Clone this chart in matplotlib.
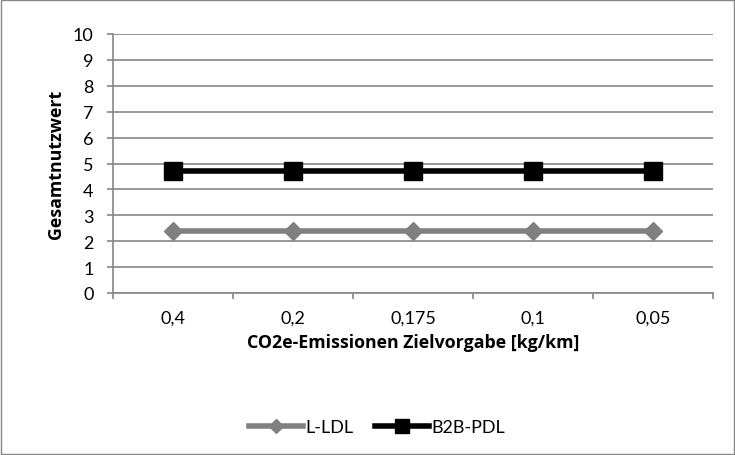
import matplotlib
matplotlib.use("Agg")
import matplotlib.pyplot as plt
import numpy as np

categories = ["0,4", "0,2", "0,175", "0,1", "0,05"]
l_ldl = [2.4, 2.4, 2.4, 2.4, 2.4]
b2b_pdl = [4.7, 4.7, 4.7, 4.7, 4.7]
yticks = list(range(0, 11))

plt.rcParams['font.family'] = ['Lato', 'DejaVu Sans']

fig = plt.figure(figsize=(7.35, 4.56), dpi=100)
ax = fig.add_axes([113/735, 1-294/456, 600/735, 259/456])

x = np.arange(len(categories))
ax.plot(x, l_ldl, color='#808080', lw=4, marker='D', markersize=9.5, label='L-LDL', zorder=3)
ax.plot(x, b2b_pdl, color='black', lw=4, marker='s', markersize=13.5, label='B2B-PDL', zorder=3)

ax.set_xlim(-0.5, len(categories)-0.5)
ax.set_ylim(0, 10)
ax.set_yticks(yticks)
ax.set_yticklabels([str(v) for v in yticks], fontsize=13)
ax.yaxis.grid(True, color='#868686', lw=1.2)
ax.set_axisbelow(True)

ax.set_xticks(np.arange(-0.5, len(categories)), labels=[''] * (len(categories)+1))
ax.set_xticks(x, minor=True)
ax.set_xticklabels(categories, minor=True, fontsize=13)
ax.tick_params(axis='x', which='major', length=4, color='#868686', width=1.2)
ax.tick_params(axis='x', which='minor', length=0, pad=12)
ax.tick_params(axis='y', length=4, color='#868686', width=1.2, pad=10)

for s in ['top', 'right']:
    ax.spines[s].set_visible(False)
for s in ['left', 'bottom']:
    ax.spines[s].set_color('#868686')
    ax.spines[s].set_linewidth(1.2)

ax.set_ylabel('Gesamtnutzwert', fontsize=12.8, fontweight='bold', family=['Open Sans', 'DejaVu Sans'], labelpad=5.5)
ax.set_xlabel('CO2e-Emissionen Zielvorgabe [kg/km]', fontsize=12.8, fontweight='bold',
              family=['Open Sans', 'DejaVu Sans'], labelpad=5)

leg = fig.legend(loc='center', bbox_to_anchor=(377/735, 1-428/456), ncol=2, frameon=False,
                 fontsize=13, handlelength=3.0, columnspacing=1.2, handletextpad=0.1, markerscale=0.7,
                 borderpad=0)

fig.patches.append(plt.Rectangle((0.002, 0.002), 0.996, 0.996, transform=fig.transFigure,
                                 fill=False, edgecolor='#868686', lw=1))

fig.savefig('out.png', dpi=100)
